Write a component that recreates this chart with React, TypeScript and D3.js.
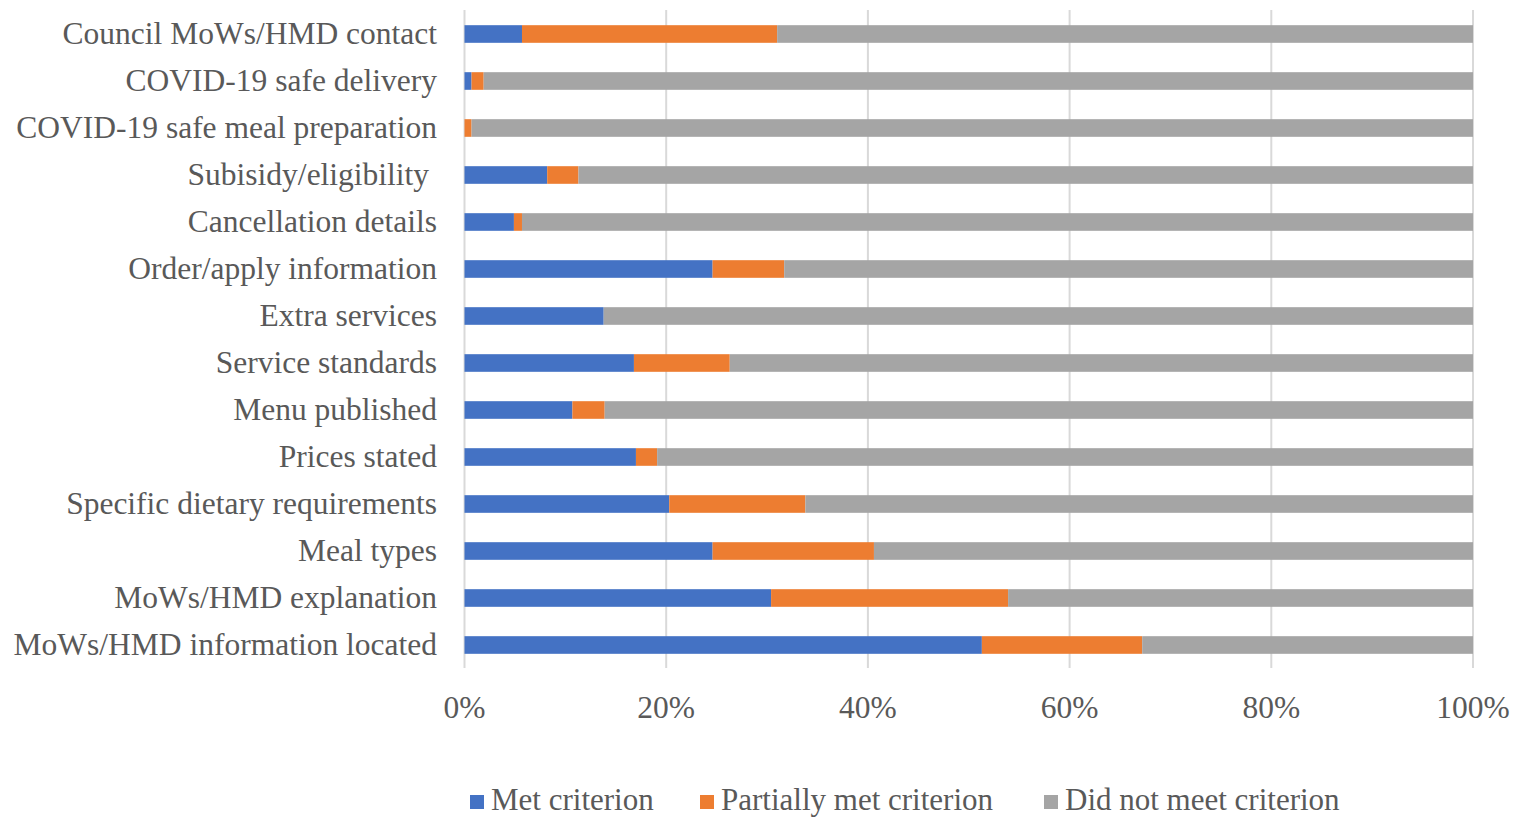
import React from "react";
import * as d3 from "d3";

// categories, top to bottom as drawn
const categories = [
  "Council MoWs/HMD contact",
  "COVID-19 safe delivery",
  "COVID-19 safe meal preparation",
  "Subisidy/eligibility ",
  "Cancellation details",
  "Order/apply information",
  "Extra services",
  "Service standards",
  "Menu published",
  "Prices stated",
  "Specific dietary requirements",
  "Meal types",
  "MoWs/HMD explanation",
  "MoWs/HMD information located",
];

// percentages
const met = [5.7, 0.7, 0, 8.2, 4.9, 24.6, 13.8, 16.8, 10.7, 17.0, 20.3, 24.6, 30.4, 51.3];
const partial = [25.3, 1.2, 0.7, 3.1, 0.8, 7.1, 0, 9.5, 3.2, 2.1, 13.5, 16.0, 23.5, 15.9];
const didNot = [69.0, 98.1, 99.3, 88.7, 94.3, 68.3, 86.2, 73.7, 86.1, 80.9, 66.2, 59.4, 46.1, 32.8];

const seriesNames = ["Met criterion", "Partially met criterion", "Did not meet criterion"];
const seriesColors = ["#4472C4", "#ED7D31", "#A5A5A5"];
const xTicks = [0, 20, 40, 60, 80, 100];

const W = 1515;
const H = 819;
const FONT = "'Liberation Serif', 'Times New Roman', serif";
const TEXT = "#595959";

export default function App() {
  const x = d3.scaleLinear().domain([0, 100]).range([464.5, 1473]);
  const y = d3.scaleBand().domain(categories).range([10.5, 668.5]).paddingInner(0.625).paddingOuter(0.3125);

  const rows = categories.map((c, i) => ({ cat: c, met: met[i], partial: partial[i], didNot: didNot[i] }));
  const keys = ["met", "partial", "didNot"];
  const stacked = d3.stack<any>().keys(keys)(rows);

  const legendX = [470, 700, 1044];

  return (
    <svg width={W} height={H} style={{ position: "absolute", left: 0, top: 0, background: "#fff" }}>
      {/* gridlines */}
      {xTicks.map((t) => (
        <line key={t} x1={x(t)} x2={x(t)} y1={10} y2={668} stroke="#D9D9D9" strokeWidth={2} />
      ))}
      {/* bars */}
      {stacked.map((s, si) => (
        <g key={s.key} fill={seriesColors[si]}>
          {s.map((d, i) => (
            <rect
              key={i}
              x={x(d[0])}
              width={Math.max(0, x(d[1]) - x(d[0]))}
              y={y(categories[i])}
              height={y.bandwidth()}
            />
          ))}
        </g>
      ))}
      {/* category labels */}
      {categories.map((c) => (
        <text
          key={c}
          x={437}
          y={(y(c) as number) + y.bandwidth() / 2 + 10}
          textAnchor="end"
          fontFamily={FONT}
          fontSize={31.5}
          fill={TEXT}
          style={{ whiteSpace: "pre" }}
        >
          {c}
        </text>
      ))}
      {/* x tick labels */}
      {xTicks.map((t) => (
        <text key={t} x={x(t)} y={718} textAnchor="middle" fontFamily={FONT} fontSize={31.5} fill={TEXT}>
          {d3.format("d")(t) + "%"}
        </text>
      ))}
      {/* legend */}
      {seriesNames.map((n, i) => (
        <g key={n}>
          <rect x={legendX[i]} y={795} width={14} height={14} fill={seriesColors[i]} />
          <text x={legendX[i] + 21} y={810} fontFamily={FONT} fontSize={31} fill={TEXT}>
            {n}
          </text>
        </g>
      ))}
    </svg>
  );
}
